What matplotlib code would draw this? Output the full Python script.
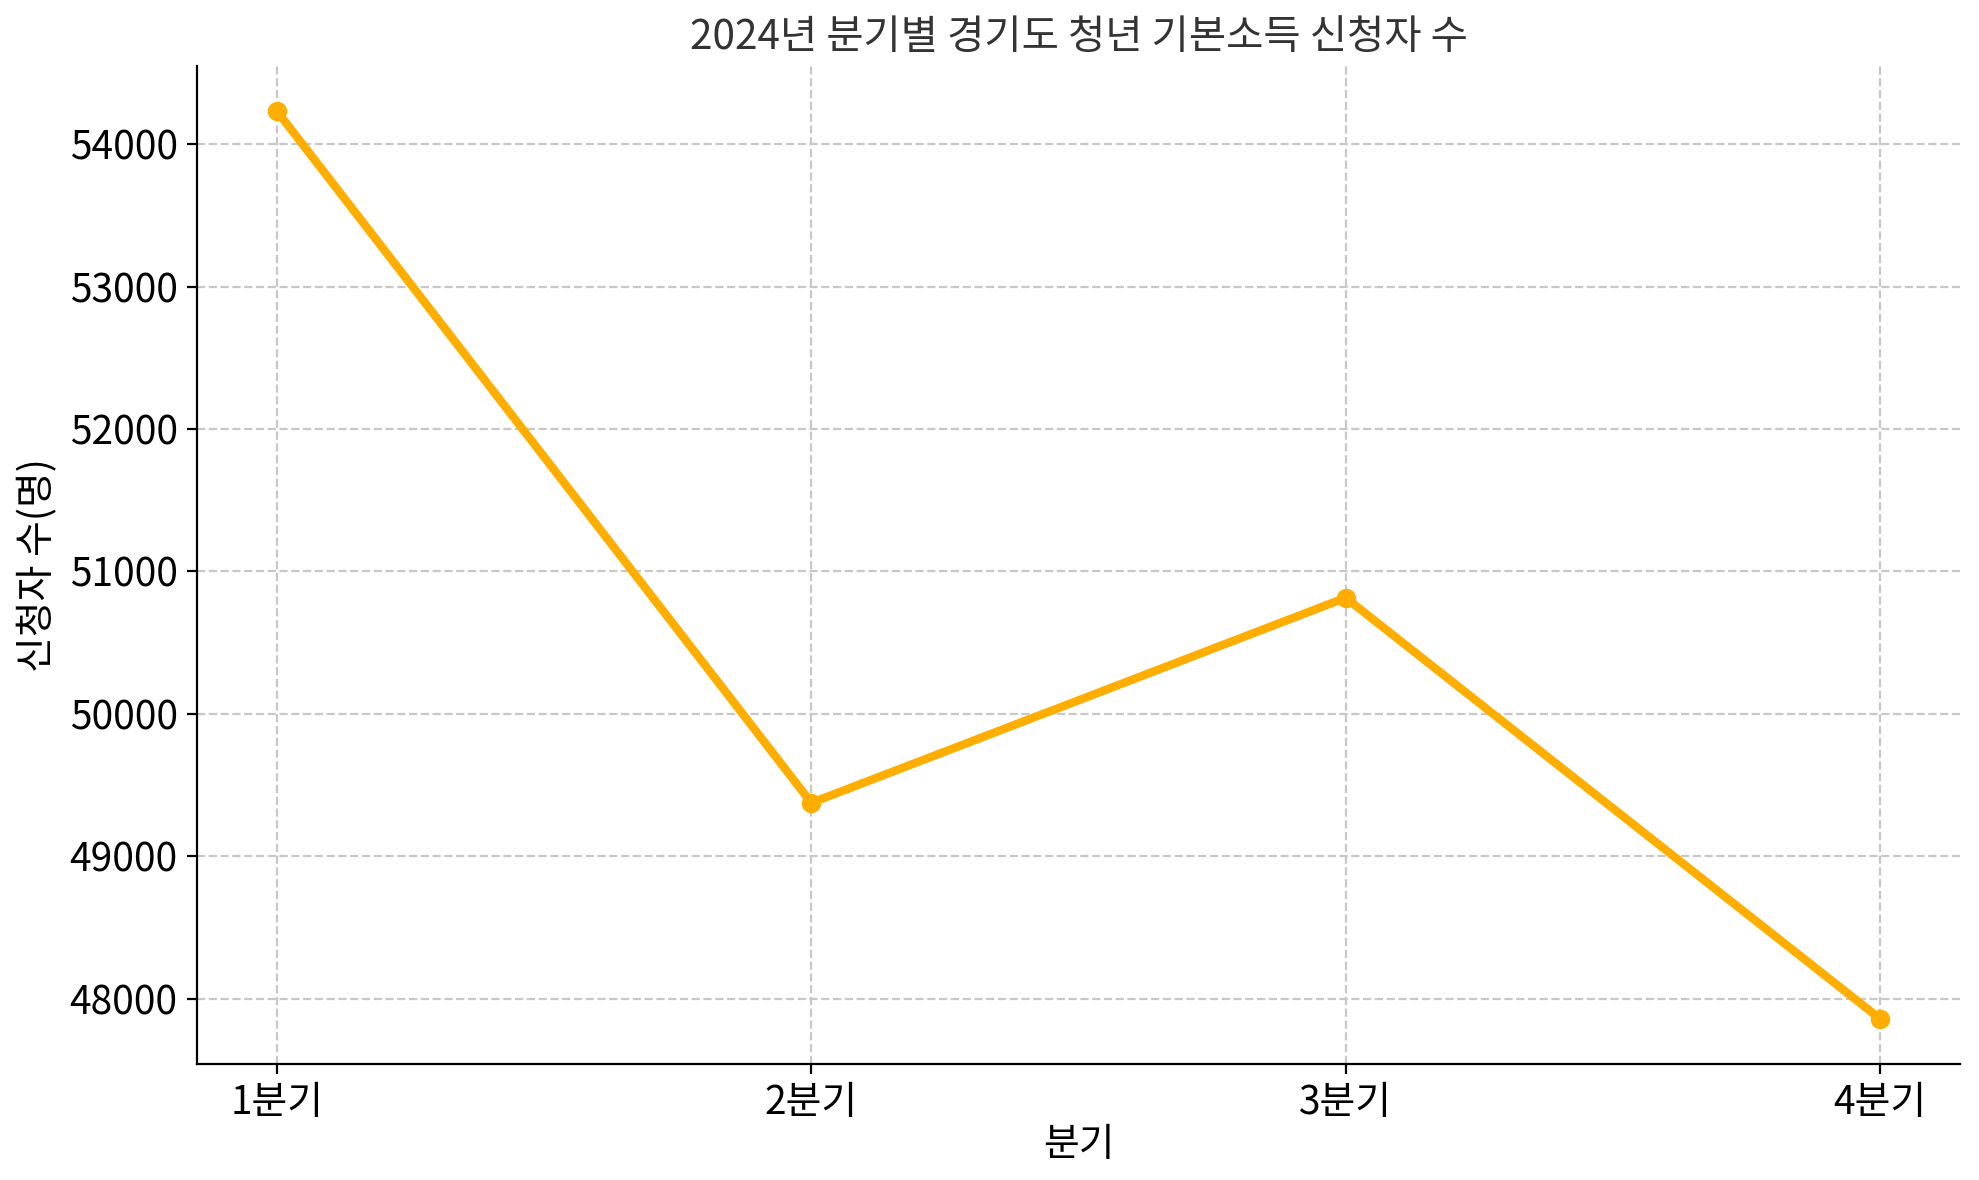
import matplotlib
matplotlib.use("Agg")
import matplotlib.pyplot as plt

plt.rcParams['font.family'] = ['Noto Sans CJK KR', 'DejaVu Sans']

quarters = ["1분기", "2분기", "3분기", "4분기"]
applicants = [54230, 49375, 50815, 47860]

fig = plt.figure(figsize=(9.895, 5.9), dpi=200)
ax = fig.add_axes([197/1979, 1 - 1064/1180, (1960-197)/1979, (1064-66)/1180])

ax.plot(quarters, applicants, color='#FFAE00', linewidth=3, marker='o', markersize=6)
ax.set_title("2024년 분기별 경기도 청년 기본소득 신청자 수", fontsize=14.6, color='#333333')
ax.set_xlabel("분기", fontsize=14, labelpad=0.5)
ax.set_ylabel("신청자 수(명)", fontsize=14)
ax.tick_params(labelsize=14)
ax.grid(True, linestyle='--', color='#c8c8c8', linewidth=0.8)
ax.spines['top'].set_visible(False)
ax.spines['right'].set_visible(False)

fig.savefig("out.png", dpi=200)
